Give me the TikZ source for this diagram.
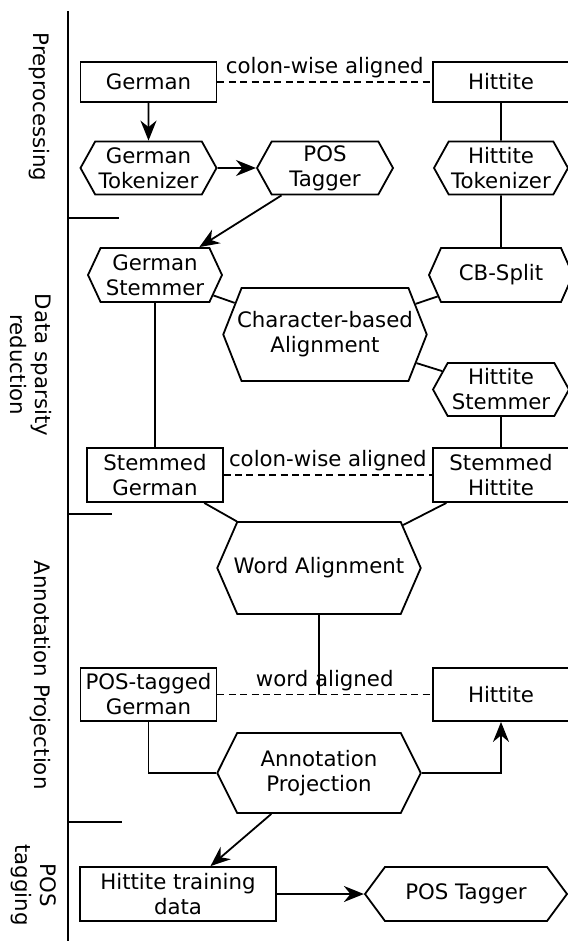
\documentclass[tikz,border=0pt]{standalone}
\usepackage{fontspec}
\setmainfont{DejaVu Sans}
\usetikzlibrary{shapes.symbols,arrows.meta,positioning}

\begin{document}
\begin{tikzpicture}[
  x=0.5pt, y=-0.5pt, line width=0.9pt,
  font=\fontsize{10.65}{12.5}\selectfont,
  box/.style={rectangle, draw, align=center, inner sep=0pt, minimum width=68pt, minimum height=20pt},
  tool/.style={signal, signal to=west and east, draw, align=center, inner sep=0pt, minimum width=68pt, minimum height=26.5pt, signal pointer angle=122},
  bigtool/.style={tool, minimum width=101.75pt, minimum height=46pt, signal pointer angle=133},
  arrow/.style={->, >={Stealth[length=10pt,width=8pt]}},
  aligned/.style={dash pattern=on 3.5pt off 2.2pt},
  lbl/.style={above, inner sep=1.5pt},
  phase/.style={rotate=-90, align=center}
]
  \useasboundingbox (0,0) rectangle (567,941);

  % phases
  \draw (68,11) -- (68,941);
  \draw (68,218) -- (119,218);
  \draw (68,514) -- (112,514);
  \draw (68,822) -- (122,822);
  \node[phase] (pre) at (39,107) {Preprocessing};
  \node[phase] (dsr) at (31,365) {Data sparsity\\reduction};
  \node[phase] (annp) at (40,675) {Annotation Projection};
  \node[phase] (post) at (34,885) {POS\\tagging};

  % preprocessing
  \node[box] (german) at (148.5,82) {German};
  \node[box] (hitt) at (501,82) {Hittite};
  \node[tool] (gertok) at (148.5,168) {German\\Tokenizer};
  \node[tool] (postag) at (325,168) {POS\\Tagger};
  \node[tool, minimum width=67pt] (hitttok) at (501,168) {Hittite\\Tokenizer};

  % data sparsity reduction
  \node[tool, minimum width=67pt, minimum height=27pt, signal pointer angle=130] (gerstem) at (155,275) {German\\Stemmer};
  \node[tool, minimum width=72pt, minimum height=27pt, signal pointer angle=132] (cbsplit) at (501,275) {CB-Split};
  \node[bigtool, minimum height=46.5pt, signal pointer angle=137] (charalign) at (325,334.5) {\makebox[75pt]{Character-based}\\Alignment};
  \node[tool] (hittstem) at (501,389.5) {Hittite\\Stemmer};
  \node[box, minimum width=67.75pt, minimum height=27pt] (stemger) at (155,475) {Stemmed\\German};
  \node[box, minimum height=27pt] (stemhitt) at (501,475) {Stemmed\\Hittite};

  % annotation projection
  \node[bigtool] (wordalign) at (319,568) {\makebox[75pt]{Word Alignment}};
  \node[box, minimum height=26.5pt] (posger) at (148.5,694.5) {POS-tagged\\German};
  \node[box, minimum height=26.5pt] (hittb) at (501,694.5) {Hittite};
  \node[bigtool, minimum height=40pt, signal pointer angle=127] (annproj) at (319,773) {Annotation\\Projection};

  % pos tagging
  \node[box, minimum width=98pt, minimum height=27pt] (train) at (178,894) {Hittite training\\data};
  \node[tool, minimum width=101pt, minimum height=27pt, signal pointer angle=107] (postagger) at (466,894) {POS Tagger};

  \draw[arrow] (german) -- (gertok);
  \draw[arrow] (gertok) -- (postag);
  \draw[aligned] (german) -- node[lbl] {colon-wise aligned} (hitt);
  \draw (hitt) -- (hitttok);
  \draw[arrow] (postag) -- (gerstem);
  \draw (hitttok) -- (cbsplit);
  \draw (gerstem) -- (charalign);
  \draw (cbsplit) -- (charalign);
  \draw (charalign) -- (hittstem);
  \draw (gerstem) -- (stemger);
  \draw (hittstem) -- (stemhitt);
  \draw[aligned] (stemger) -- node[lbl] {colon-wise aligned} (stemhitt);
  \draw (stemger) -- (wordalign);
  \draw (stemhitt) -- (wordalign);
  \draw[aligned] (posger) -- node[lbl] {word aligned} (hittb);
  \coordinate (waend) at (wordalign |- posger);
  \draw (wordalign) -- (waend);
  \draw (posger) |- (annproj);
  \draw[arrow] (annproj) -| (hittb);
  \draw[arrow] (annproj) -- (train);
  \draw[arrow] (train) -- (postagger);
\end{tikzpicture}
\end{document}
